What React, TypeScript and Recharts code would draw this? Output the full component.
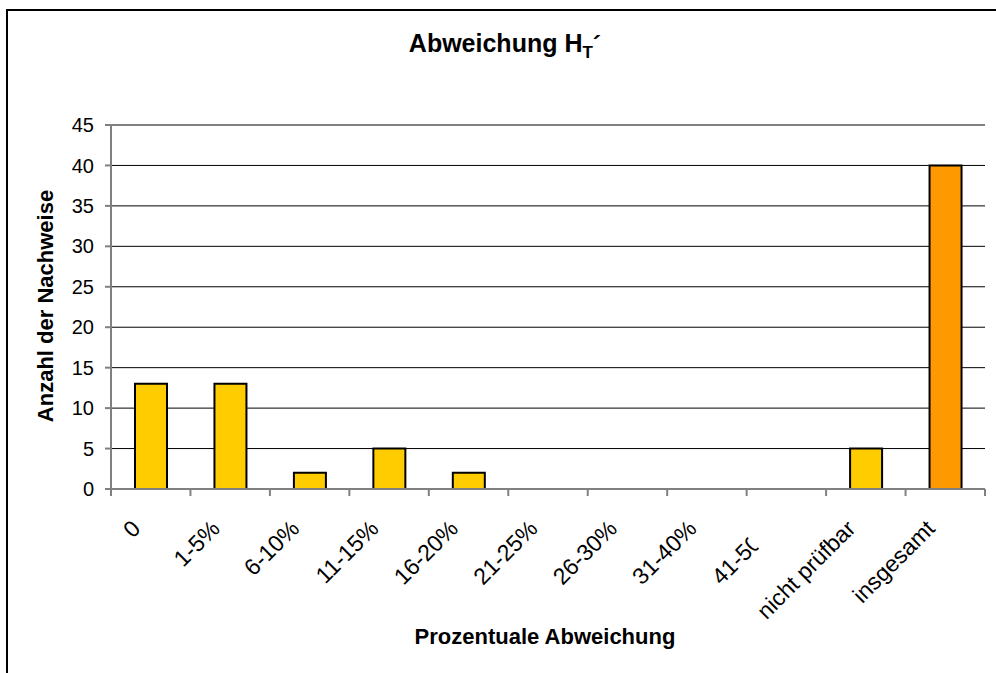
import React from "react";
import { BarChart, Bar, XAxis, YAxis, CartesianGrid, ReferenceLine, Cell } from "recharts";

const categories = [
  "0",
  "1-5%",
  "6-10%",
  "11-15%",
  "16-20%",
  "21-25%",
  "26-30%",
  "31-40%",
  "41-50%",
  "nicht prüfbar",
  "insgesamt",
];
const counts = [13, 13, 2, 5, 2, 0, 0, 0, 0, 5, 40];
const yTicks = [0, 5, 10, 15, 20, 25, 30, 35, 40, 45];
const gridValues = [5, 10, 15, 20, 25, 30, 35, 40];

const data = categories.map((cat, i) => ({ cat, count: counts[i] }));

const W = 996;
const H = 673;
const M = { top: 125, right: 11, bottom: 84, left: 31 };
const Y_W = 80;
const BAND = (W - M.left - Y_W - M.right) / categories.length;

const YELLOW = "#FFCC00";
const ORANGE = "#FF9900";
const AXIS = "#808080";
const FONT = "'Liberation Sans', Arial, sans-serif";

// Excel-style ticks sit between categories, labels rotated 45°
function XTick(props: any) {
  const { x, y, payload, index } = props;
  const label = String(payload.value);
  const lx = x - 9;
  const ly = y + 41;
  const clipId = `xclip-${index}`;
  // the reference cuts this label where it would run into the next one
  const clipped = label === "41-50%";
  return (
    <g>
      <line x1={x - BAND / 2} x2={x - BAND / 2} y1={y} y2={y + 7} stroke={AXIS} strokeWidth={2} />
      {index === categories.length - 1 && (
        <line x1={x + BAND / 2} x2={x + BAND / 2} y1={y} y2={y + 7} stroke={AXIS} strokeWidth={2} />
      )}
      {clipped && (
        <clipPath id={clipId}>
          <rect x={x - 200} y={y} width={165} height={200} />
        </clipPath>
      )}
      <text
        x={lx}
        y={ly}
        transform={`rotate(-45 ${lx} ${ly})`}
        textAnchor="end"
        fontSize={23}
        fontFamily={FONT}
        fill="#000"
        clipPath={clipped ? `url(#${clipId})` : undefined}
      >
        {label}
      </text>
    </g>
  );
}

export default function App() {
  return (
    <div
      style={{
        position: "fixed",
        left: 0,
        top: 0,
        width: W,
        height: H,
        overflow: "hidden",
        background: "#fff",
        fontFamily: FONT,
      }}
    >
      {/* outer chart frame, only its top and left edges are in view */}
      <div style={{ position: "absolute", left: 6, top: 9, width: 1000, height: 2, background: "#000" }} />
      <div style={{ position: "absolute", left: 6, top: 9, width: 2, height: 700, background: "#000" }} />
      <div style={{ position: "absolute", left: 0, top: 0 }}>
        <BarChart width={W} height={H} data={data} margin={M}>
          <CartesianGrid vertical={false} stroke="#000" strokeWidth={1} horizontalValues={gridValues} />
          <XAxis
            dataKey="cat"
            height={100}
            interval={0}
            tickLine={false}
            tickSize={0}
            tickMargin={0}
            axisLine={{ stroke: AXIS, strokeWidth: 2 }}
            tick={<XTick />}
          />
          <YAxis
            width={Y_W}
            domain={[0, 45]}
            ticks={yTicks}
            interval={0}
            tickSize={6}
            tickMargin={11}
            tickLine={{ stroke: AXIS, strokeWidth: 2 }}
            axisLine={{ stroke: AXIS, strokeWidth: 2 }}
            tick={{ fill: "#000", fontSize: 20, fontFamily: FONT }}
          />
          <YAxis
            yAxisId="right"
            orientation="right"
            width={0}
            tick={false}
            tickLine={false}
            axisLine={{ stroke: AXIS, strokeWidth: 2 }}
          />
          <ReferenceLine y={45} stroke={AXIS} strokeWidth={2} />
          <Bar dataKey="count" barSize={32} stroke="#000" strokeWidth={2} isAnimationActive={false}>
            {data.map((d, i) => (
              <Cell key={`c-${i}`} fill={d.cat === "insgesamt" ? ORANGE : YELLOW} />
            ))}
          </Bar>
        </BarChart>
      </div>
      <div
        style={{
          position: "absolute",
          left: 505,
          top: 46,
          transform: "translate(-50%, -50%)",
          whiteSpace: "nowrap",
          fontSize: 25,
          fontWeight: "bold",
          lineHeight: 1,
        }}
      >
        Abweichung H<sub style={{ fontSize: 17, verticalAlign: -6, lineHeight: 1 }}>T</sub>
        <span style={{ position: "relative", top: 2 }}>´</span>
      </div>
      <div
        style={{
          position: "absolute",
          left: 46,
          top: 306,
          transform: "translate(-50%, -50%) rotate(-90deg)",
          whiteSpace: "nowrap",
          fontSize: 22,
          fontWeight: "bold",
        }}
      >
        Anzahl der Nachweise
      </div>
      <div
        style={{
          position: "absolute",
          left: 545,
          top: 637,
          transform: "translate(-50%, -50%)",
          whiteSpace: "nowrap",
          fontSize: 22,
          fontWeight: "bold",
        }}
      >
        Prozentuale Abweichung
      </div>
    </div>
  );
}
